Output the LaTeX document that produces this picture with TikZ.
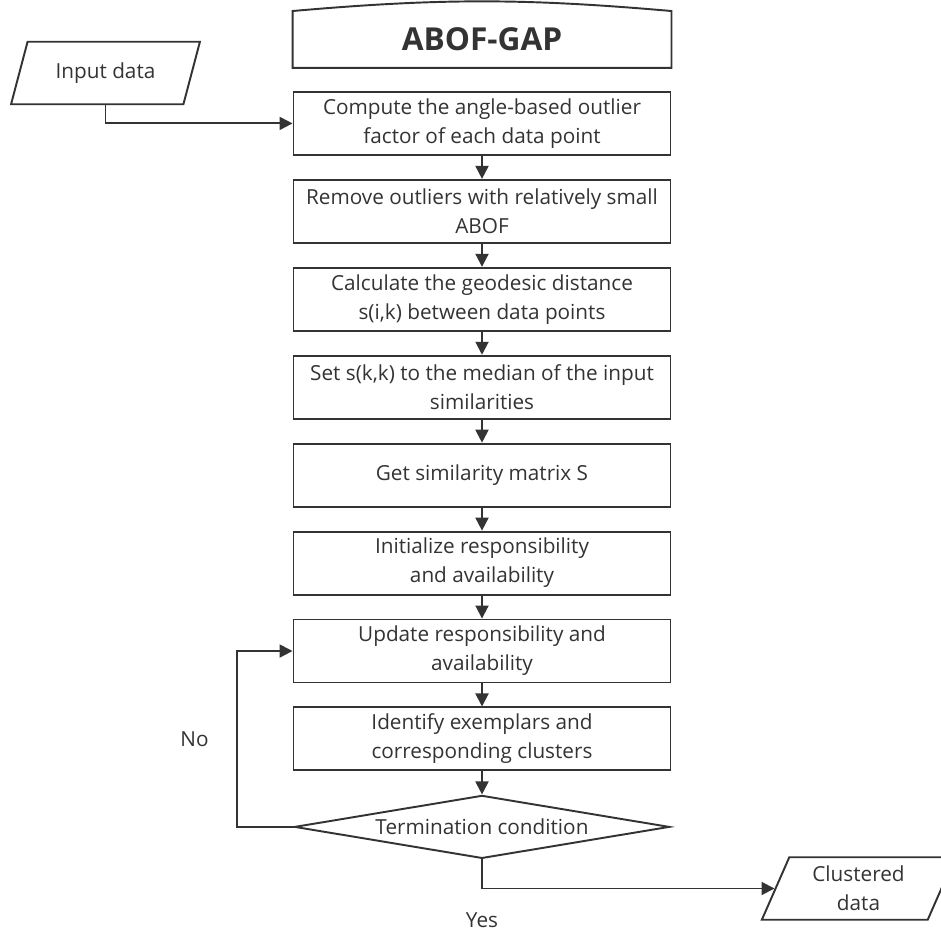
\documentclass[tikz,border=0pt]{standalone}
\usepackage{fontspec}
\setmainfont{Open Sans}
\usetikzlibrary{shapes.geometric,positioning,arrows.meta}
\definecolor{ink}{RGB}{51,51,51}

\begin{document}
\begin{tikzpicture}[>={Triangle[length=2.6mm,width=2.6mm]},node distance=0.46cm,
	line width=1.1pt,color=ink,font=\fontsize{11.8}{16.5}\selectfont,
	proc/.style={rectangle,draw,minimum width=7.54cm,minimum height=1.26cm,align=center,inner sep=2pt},
	io/.style={trapezium,trapezium left angle=70,trapezium right angle=110,trapezium stretches=true,draw,align=center,minimum height=1.25cm},
	decision/.style={diamond,draw,shape aspect=6,minimum width=7.5cm,minimum height=1.26cm,inner sep=1pt}]
	\useasboundingbox (0,0) rectangle (18.82,-18.66);
	\node[proc,draw=none,minimum height=1.1cm,font=\bfseries\fontsize{18}{21}\selectfont] (title) at (9.64,-0.79) {ABOF-GAP};
	\node[proc] (compute) [below=of title] {Compute the angle-based outlier\\factor of each data point};
	\node[proc] (remove) [below=of compute] {Remove outliers with relatively small\\ABOF};
	\node[proc] (geodesic) [below=of remove] {Calculate the geodesic distance\\s(i,k) between data points};
	\node[proc] (median) [below=of geodesic] {Set s(k,k) to the median of the input\\similarities};
	\node[proc] (simmat) [below=of median] {Get similarity matrix S};
	\node[proc] (init) [below=of simmat] {Initialize responsibility\\and availability};
	\node[proc] (update) [below=of init] {Update responsibility and\\availability};
	\node[proc] (identify) [below=of update] {Identify exemplars and\\corresponding clusters};
	\node[decision] (term) [below=of identify] {Termination condition};
	\node[io,minimum width=3.78cm] (input) at (2.11,-1.46) {Input data};
	\node[io,minimum width=3.9cm] (output) at (17.17,-17.77) {Clustered\\data};

	% title box with curved top
	\draw (title.south west) -- (title.north west) to[bend left=5] (title.north east) -- (title.south east) -- cycle;

	\path[->]
	(compute) edge (remove)
	(remove) edge (geodesic)
	(geodesic) edge (median)
	(median) edge (simmat)
	(simmat) edge (init)
	(init) edge (update)
	(update) edge (identify)
	(identify) edge (term);
	\draw[->] (input.south) |- (compute.west);
	\draw[->] (term.west) -- ++(-1.14,0) |- node[pos=0.25,left=12pt] {No} (update.west);
	\draw[->] (term.south) |- node[pos=0.5,below=10pt] {Yes} (output.west);
\end{tikzpicture}
\end{document}
